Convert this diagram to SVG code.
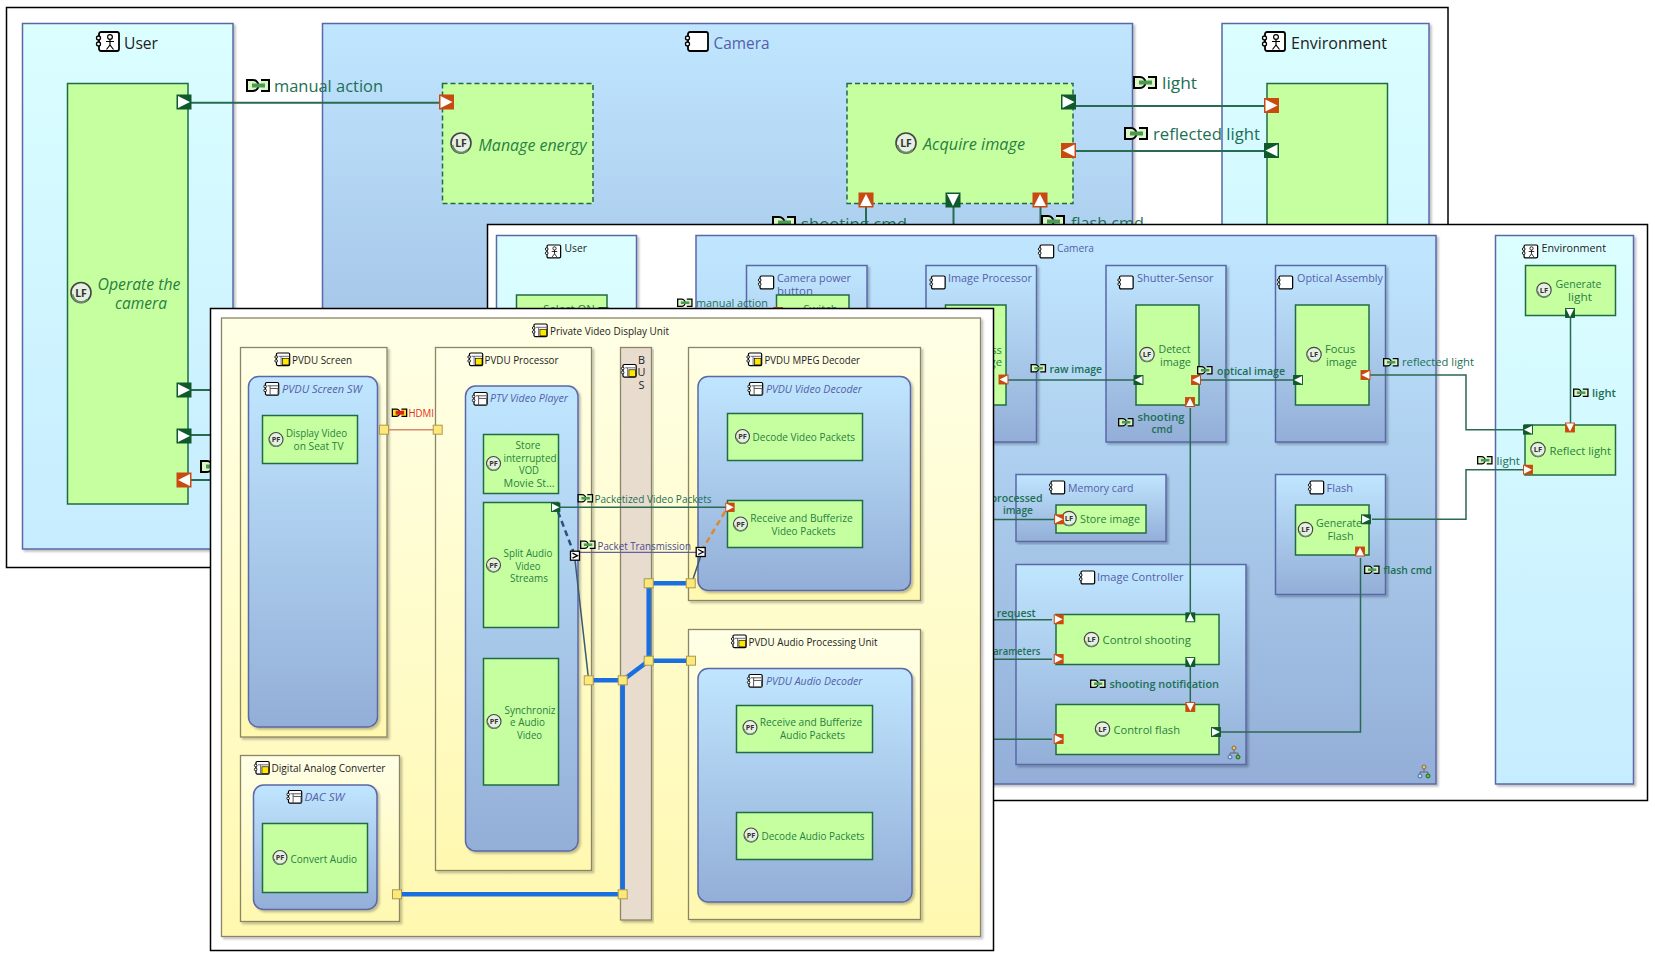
<svg xmlns="http://www.w3.org/2000/svg" xmlns:xlink="http://www.w3.org/1999/xlink" width="1655" height="957" viewBox="0 0 1655 957">
<style>
text{font-family:"Open Sans","Noto Sans",sans-serif}
.frame{fill:#fff;stroke:#000;stroke-width:1.5}
.g{fill:#c6ffa0;stroke:#1f6b45;stroke-width:1.5}
.gd{fill:#c6ffa0;stroke:#1f6b45;stroke-width:1.5;stroke-dasharray:5 3}
.b{fill:url(#blue);stroke:#5a68a8;stroke-width:1.5;filter:url(#sh)}
.c{fill:url(#cyan);stroke:#5a68a8;stroke-width:1.5;filter:url(#sh)}
.y{fill:url(#yel);stroke:#8a8468;stroke-width:1.3;filter:url(#sh)}
.bus{fill:#e8dccf;stroke:#8a8468;stroke-width:1.3;filter:url(#sh)}
.l{fill:none;stroke:#2a6a50;stroke-width:1.5}
.l1{fill:none;stroke:#2a6a50;stroke-width:2}
.bl{fill:none;stroke:#1a6fe0;stroke-width:4.5}
.f1{font-size:16.5px}
.f2{font-size:11.3px}
.f3{font-size:10.9px}
.tg{fill:#2a8040}
.tl{fill:#1d6f55}
.tb{fill:#5560a8}
.tk{fill:#222}
.i{font-style:italic}
.m{text-anchor:middle}
.ys{fill:#ffe87a;stroke:#a89a50;stroke-width:1}
</style>
<defs>
<linearGradient id="blue" x1="0" y1="0" x2="0" y2="1"><stop offset="0" stop-color="#c0e6ff"/><stop offset="1" stop-color="#93aed7"/></linearGradient>
<linearGradient id="cyan" x1="0" y1="0" x2="0" y2="1"><stop offset="0" stop-color="#dbffff"/><stop offset="1" stop-color="#c6ecff"/></linearGradient>
<linearGradient id="yel" x1="0" y1="0" x2="0" y2="1"><stop offset="0" stop-color="#ffffe6"/><stop offset="1" stop-color="#fff8b0"/></linearGradient>
<filter id="sh" x="-5%" y="-5%" width="110%" height="110%"><feDropShadow dx="2" dy="2" stdDeviation="1" flood-color="#000" flood-opacity=".25"/></filter>
<g id="pg"><rect x="-7.5" y="-7.5" width="15" height="15" fill="#0f5a2c"/><path d="M-6-6 6 0-6 6z" fill="#fff"/></g>
<g id="po"><rect x="-7.5" y="-7.5" width="15" height="15" fill="#c84a10"/><path d="M-6-6 6 0-6 6z" fill="#fff"/></g>
<g id="pk"><rect x="-4.5" y="-4.5" width="9" height="9" fill="#fff" stroke="#000" stroke-width="1.3"/><path d="M-2.5-2.5 2.5 0-2.5 2.5" fill="none" stroke="#000" stroke-width="1.3"/></g>
<g id="fx"><path d="M1 1h6a5.500 5.500 0 0 1 0 11H1z" fill="#dcf5c8" stroke="#000" stroke-width="2"/><path d="M15 1h8v11h-8" fill="#dcf5c8" stroke="#000" stroke-width="2"/><rect x="6" y="4.500" width="13" height="4" fill="#4a9a50"/></g>
<g id="fxr"><path d="M1 1h6a5.500 5.500 0 0 1 0 11H1z" fill="#ffe020" stroke="#000" stroke-width="2"/><path d="M15 1h8v11h-8" fill="#ffe020" stroke="#000" stroke-width="2"/><rect x="6" y="3.500" width="13" height="6" fill="#e02020"/></g>
<g id="cb"><rect x="3" y="0" width="20" height="19" rx="2" fill="#fff" stroke="#000" stroke-width="1.8"/><circle cx="2.5" cy="6" r="2" fill="#fff" stroke="#000" stroke-width="1.3"/><circle cx="2.5" cy="12" r="2" fill="#fff" stroke="#000" stroke-width="1.3"/></g>
<g id="ca"><use href="#cb"/><circle cx="14" cy="5" r="2.4" fill="#fff" stroke="#000" stroke-width="1.2"/><path d="M14 7.4V13M10 9.5h8M14 13l-3.500 4.500M14 13l3.500 4.500" fill="none" stroke="#000" stroke-width="1.2"/></g>
<g id="cn"><use href="#cb"/><path d="M6 5h16M10 5V19" stroke="#555" stroke-width="1.300" fill="none"/><rect x="12" y="8" width="10" height="10" fill="#ffe800" stroke="#000" stroke-width="1"/></g>
<g id="cs"><use href="#cb"/><path d="M6 5h16M10 5V19M10 9h12V19" stroke="#555" stroke-width="1.500" fill="none"/></g>
<g id="lf"><circle r="10" fill="#e6f0e0" stroke="#444" stroke-width="1.600"/><path d="M-8.500 2a8.800 8.800 0 0 0 15 5" fill="none" stroke="#6a8a6a" stroke-width="2"/><text y="4" text-anchor="middle" font-size="10.500" font-weight="700" fill="#333">LF</text></g>
<g id="pf"><circle r="10" fill="#e6f0e0" stroke="#444" stroke-width="1.600"/><path d="M-8.500 2a8.800 8.800 0 0 0 15 5" fill="none" stroke="#6a8a6a" stroke-width="2"/><text y="4" text-anchor="middle" font-size="10.500" font-weight="700" fill="#333">PF</text></g>
<g id="hi"><path d="M0-4V0M-4 3V0H4V3" fill="none" stroke="#667" stroke-width="1"/><circle cy="-5" r="2" fill="#e8c860" stroke="#865"/><circle cx="-4" cy="4" r="2" fill="#cfe0ff" stroke="#46a"/><circle cx="4" cy="4" r="2" fill="#60c040" stroke="#262"/></g>
</defs>

<g id="panel-system">
<rect class="frame" x="6.500" y="7.500" width="1441.500" height="560"/>
<g id="p1-user"><rect class="c" x="22.500" y="23.500" width="210.500" height="525.500"/>
<use href="#ca" transform="translate(96,32)"/><text class="f1 tk" x="124" y="48.500" textLength="34" lengthAdjust="spacingAndGlyphs">User</text>
<g id="p1-operate"><rect class="g" x="67.500" y="83.500" width="120.500" height="420.500"/>
<use href="#lf" transform="translate(81,292.500)"/>
<text class="f1 tg i" x="139" y="290" text-anchor="middle" textLength="83" lengthAdjust="spacingAndGlyphs">Operate the</text>
<text class="f1 tg i" x="141" y="309" text-anchor="middle" textLength="52" lengthAdjust="spacingAndGlyphs">camera</text></g></g>
<g id="p1-camera"><rect class="b" x="322.500" y="23.500" width="810" height="525.500"/>
<use href="#cb" transform="translate(685,32)"/><text class="f1 tb" x="713.500" y="48.500" textLength="56" lengthAdjust="spacingAndGlyphs">Camera</text>
<g id="p1-manage"><rect class="gd" x="442.500" y="83.500" width="150.500" height="120"/>
<use href="#lf" transform="translate(461,143)"/>
<text class="f1 tg i" x="478.500" y="150.500" textLength="108" lengthAdjust="spacingAndGlyphs">Manage energy</text></g>
<g id="p1-acquire"><rect class="gd" x="847" y="83.500" width="226" height="120"/>
<use href="#lf" transform="translate(906,143)"/>
<text class="f1 tg i" x="923" y="150" textLength="102" lengthAdjust="spacingAndGlyphs">Acquire image</text></g></g>
<g id="p1-environment"><rect class="c" x="1222" y="23.500" width="207" height="525.500"/>
<use href="#ca" transform="translate(1262,32)"/><text class="f1 tk" x="1291" y="48.500" textLength="96" lengthAdjust="spacingAndGlyphs">Environment</text>
<g id="p1-reflect"><rect class="g" x="1267" y="83.500" width="120.500" height="420"/></g></g>
<g id="p1-connectors">
<path class="l1" d="M191 102.700H440M1076 106H1264M1076 151H1264M866 207V224M953.500 207V224M1040.500 207V224M191 390H225M191 435H225M191 480H225"/>
<use href="#pg" transform="translate(184,102)"/><use href="#po" transform="translate(446.500,102)"/>
<use href="#pg" transform="translate(1068.500,102)"/><use href="#po" transform="translate(1068.500,150.500) rotate(180)"/>
<use href="#po" transform="translate(1271.500,105.500)"/><use href="#pg" transform="translate(1271.500,150.500) rotate(180)"/>
<use href="#po" transform="translate(866,200) rotate(-90)"/><use href="#pg" transform="translate(953,200) rotate(90)"/><use href="#po" transform="translate(1040,200) rotate(-90)"/>
<use href="#pg" transform="translate(184,390)"/><use href="#pg" transform="translate(184,436)"/><use href="#po" transform="translate(184,480) rotate(180)"/>
<use href="#fx" transform="translate(246,79)"/><text class="f1 tl" x="274" y="92" textLength="109" lengthAdjust="spacingAndGlyphs">manual action</text>
<use href="#fx" transform="translate(1133,76)"/><text class="f1 tl" x="1162" y="89" textLength="35" lengthAdjust="spacingAndGlyphs">light</text>
<use href="#fx" transform="translate(1124,127)"/><text class="f1 tl" x="1153" y="140" textLength="107" lengthAdjust="spacingAndGlyphs">reflected light</text>
<use href="#fx" transform="translate(772,216)"/><text class="f1 tl" x="801" y="230" textLength="106" lengthAdjust="spacingAndGlyphs">shooting cmd</text>
<use href="#fx" transform="translate(1041,215)"/><text class="f1 tl" x="1071" y="229" textLength="73" lengthAdjust="spacingAndGlyphs">flash cmd</text>
<use href="#fx" transform="translate(200,460)"/>
</g>
</g>

<g id="panel-camera">
<rect class="frame" x="487.500" y="224.500" width="1160" height="576"/>
<g id="p2-user"><rect class="c" x="496.500" y="235.500" width="140" height="548.500"/>
<use href="#ca" transform="translate(545,245) scale(.68)"/><text class="f2 tk" x="564.500" y="252" textLength="22.500" lengthAdjust="spacingAndGlyphs">User</text>
<g id="p2-select"><rect class="g" x="516.500" y="295" width="90.500" height="50"/><text class="f2 tg m" x="569" y="313">Select ON</text></g></g>
<g id="p2-camera"><rect class="b" x="696" y="235.500" width="740" height="548.500"/>
<use href="#cb" transform="translate(1038,245) scale(.68)"/><text class="f2 tb" x="1057" y="252" textLength="37" lengthAdjust="spacingAndGlyphs">Camera</text>
<g id="p2-power"><rect class="b" x="746.500" y="265.500" width="120.500" height="177"/>
<use href="#cb" transform="translate(758,276) scale(.68)"/><text class="f2 tb" x="777" y="282" textLength="74" lengthAdjust="spacingAndGlyphs">Camera power</text><text class="f2 tb" x="777" y="294.500" textLength="36" lengthAdjust="spacingAndGlyphs">button</text>
<g id="p2-switch"><rect class="g" x="776.500" y="295" width="72.500" height="50"/><text class="f2 tg m" x="820.500" y="313">Switch</text></g></g>
<g id="p2-processor"><rect class="b" x="926" y="265.500" width="110.500" height="176.500"/>
<use href="#cb" transform="translate(929.500,276) scale(.68)"/><text class="f2 tb" x="948" y="282" textLength="84" lengthAdjust="spacingAndGlyphs">Image Processor</text>
<g id="p2-process"><rect class="g" x="945.500" y="305" width="60.500" height="100"/><text class="f2 tg" x="1002" y="353.500" text-anchor="end">Process</text><text class="f2 tg" x="1002" y="366" text-anchor="end">image</text></g></g>
<g id="p2-shutter"><rect class="b" x="1106" y="265.500" width="120" height="176.500"/>
<use href="#cb" transform="translate(1117.500,276) scale(.68)"/><text class="f2 tb" x="1137" y="282" textLength="76.500" lengthAdjust="spacingAndGlyphs">Shutter-Sensor</text>
<g id="p2-detect"><rect class="g" x="1136" y="305" width="63" height="100"/><use href="#lf" transform="translate(1147,354.500) scale(.72)"/><text class="f2 tg m" x="1174.500" y="352.500" textLength="32" lengthAdjust="spacingAndGlyphs">Detect</text><text class="f2 tg m" x="1175.500" y="365.500" textLength="31" lengthAdjust="spacingAndGlyphs">image</text></g></g>
<g id="p2-optical"><rect class="b" x="1275.500" y="265.500" width="110" height="176.500"/>
<use href="#cb" transform="translate(1277,276) scale(.68)"/><text class="f2 tb" x="1297" y="282" textLength="86" lengthAdjust="spacingAndGlyphs">Optical Assembly</text>
<g id="p2-focus"><rect class="g" x="1295.500" y="305" width="73.500" height="100"/><use href="#lf" transform="translate(1314,354.500) scale(.72)"/><text class="f2 tg m" x="1340" y="352.500" textLength="30" lengthAdjust="spacingAndGlyphs">Focus</text><text class="f2 tg m" x="1341.500" y="365.500" textLength="31" lengthAdjust="spacingAndGlyphs">image</text></g></g>
<g id="p2-memory"><rect class="b" x="1016" y="474.500" width="150" height="67"/>
<use href="#cb" transform="translate(1049,481) scale(.68)"/><text class="f2 tb" x="1068" y="491.500" textLength="65.500" lengthAdjust="spacingAndGlyphs">Memory card</text>
<g id="p2-store"><rect class="g" x="1056" y="505" width="90" height="28"/><use href="#lf" transform="translate(1069,518.500) scale(.72)"/><text class="f2 tg" x="1080" y="522.500" textLength="60" lengthAdjust="spacingAndGlyphs">Store image</text></g></g>
<g id="p2-flash"><rect class="b" x="1275.500" y="474.500" width="110" height="120"/>
<use href="#cb" transform="translate(1308,481) scale(.68)"/><text class="f2 tb" x="1326.500" y="491.500" textLength="26.500" lengthAdjust="spacingAndGlyphs">Flash</text>
<g id="p2-genflash"><rect class="g" x="1295.500" y="505" width="73.500" height="50"/><use href="#lf" transform="translate(1305.500,529.500) scale(.72)"/><text class="f2 tg m" x="1339" y="526.500" textLength="46" lengthAdjust="spacingAndGlyphs">Generate</text><text class="f2 tg m" x="1340.500" y="539.500" textLength="26" lengthAdjust="spacingAndGlyphs">Flash</text></g></g>
<g id="p2-controller"><rect class="b" x="1016" y="564.500" width="230" height="200"/>
<use href="#cb" transform="translate(1079,571) scale(.68)"/><text class="f2 tb" x="1097" y="581" textLength="86.500" lengthAdjust="spacingAndGlyphs">Image Controller</text>
<g id="p2-ctlshoot"><rect class="g" x="1056" y="614.500" width="163" height="50"/><use href="#lf" transform="translate(1091.500,639.500) scale(.72)"/><text class="f2 tg" x="1102.500" y="643.500" textLength="88.500" lengthAdjust="spacingAndGlyphs">Control shooting</text></g>
<g id="p2-ctlflash"><rect class="g" x="1056" y="704.500" width="163" height="50"/><use href="#lf" transform="translate(1102.500,729) scale(.72)"/><text class="f2 tg" x="1113.500" y="733.500" textLength="66.500" lengthAdjust="spacingAndGlyphs">Control flash</text></g>
<use href="#hi" transform="translate(1234,753)"/></g>
<use href="#hi" transform="translate(1424,772)"/></g>
<g id="p2-environment"><rect class="c" x="1495.500" y="235.500" width="138" height="548.500"/>
<use href="#ca" transform="translate(1522,245) scale(.68)"/><text class="f2 tk" x="1541.500" y="252" textLength="64.500" lengthAdjust="spacingAndGlyphs">Environment</text>
<g id="p2-genlight"><rect class="g" x="1525.500" y="265.500" width="90" height="50"/><use href="#lf" transform="translate(1544,290) scale(.72)"/><text class="f2 tg m" x="1578.500" y="288" textLength="46" lengthAdjust="spacingAndGlyphs">Generate</text><text class="f2 tg m" x="1580" y="301" textLength="24" lengthAdjust="spacingAndGlyphs">light</text></g>
<g id="p2-reflectlight"><rect class="g" x="1525" y="425" width="90.500" height="50"/><use href="#lf" transform="translate(1538,449.500) scale(.72)"/><text class="f2 tg" x="1549.500" y="454.500" textLength="61.500" lengthAdjust="spacingAndGlyphs">Reflect light</text></g></g>
<g id="p2-connectors">
<path class="l" d="M606 312H776M1008 380H1135M1199 380H1294M1370 375H1466V429.700H1525M1570.500 318V423M1525 469.700H1466V519.300H1372M900 519.500H1056M1190.300 408V612M1190.300 664V702M1360.500 558V732H1220M900 619.700H1052M900 659.300H1052M900 739.300H1052"/>
<use href="#po" transform="translate(1003.500,379.500) rotate(180) scale(.66)"/>
<use href="#pg" transform="translate(1138.500,380) rotate(180) scale(.66)"/><use href="#po" transform="translate(1196,380) rotate(180) scale(.66)"/>
<use href="#pg" transform="translate(1298,380) rotate(180) scale(.66)"/><use href="#po" transform="translate(1365.500,375) rotate(180) scale(.66)"/>
<use href="#po" transform="translate(1190,402) rotate(-90) scale(.66)"/>
<use href="#pg" transform="translate(1570,313) rotate(90) scale(.66)"/><use href="#po" transform="translate(1570,427.500) rotate(90) scale(.66)"/>
<use href="#pg" transform="translate(1528,429.700) rotate(180) scale(.66)"/><use href="#po" transform="translate(1528,469.700) scale(.66)"/>
<use href="#pg" transform="translate(1366,519.300) scale(.66)"/><use href="#po" transform="translate(1360,551.500) rotate(-90) scale(.66)"/>
<use href="#po" transform="translate(1059,519.300) scale(.66)"/>
<use href="#po" transform="translate(1058.700,619.300) scale(.66)"/><use href="#po" transform="translate(1058.700,659) scale(.66)"/><use href="#po" transform="translate(1058.700,739) scale(.66)"/>
<use href="#pg" transform="translate(1190.300,617.300) rotate(-90) scale(.66)"/><use href="#pg" transform="translate(1190.300,662) rotate(90) scale(.66)"/><use href="#po" transform="translate(1190.300,707) rotate(90) scale(.66)"/>
<use href="#pg" transform="translate(1216,732) scale(.66)"/>
<use href="#pg" transform="translate(603.500,312) scale(.66)"/><use href="#po" transform="translate(778,312) scale(.66)"/>
<use href="#fx" transform="translate(677,298.500) scale(.65)"/><text class="f2 tl" x="696" y="306.500" textLength="72" lengthAdjust="spacingAndGlyphs">manual action</text>
<use href="#fx" transform="translate(1030.500,364) scale(.65)"/><text class="f2 tl" x="1049.500" y="372.500" font-weight="600" textLength="52.500" lengthAdjust="spacingAndGlyphs">raw image</text>
<use href="#fx" transform="translate(1197,366) scale(.65)"/><text class="f2 tl" x="1217" y="374.500" font-weight="600" textLength="68" lengthAdjust="spacingAndGlyphs">optical image</text>
<use href="#fx" transform="translate(1383,358) scale(.65)"/><text class="f2 tl" x="1402" y="366" textLength="72" lengthAdjust="spacingAndGlyphs">reflected light</text>
<use href="#fx" transform="translate(1573,388.500) scale(.65)"/><text class="f2 tl" x="1592" y="396.500" font-weight="600" textLength="24" lengthAdjust="spacingAndGlyphs">light</text>
<use href="#fx" transform="translate(1477,456) scale(.65)"/><text class="f2 tl" x="1496.500" y="464.500" textLength="23.500" lengthAdjust="spacingAndGlyphs">light</text>
<use href="#fx" transform="translate(1118,418) scale(.65)"/><text class="f2 tl m" x="1161" y="420.500" font-weight="600" textLength="47" lengthAdjust="spacingAndGlyphs">shooting</text><text class="f2 tl m" x="1162" y="433" font-weight="600" textLength="21" lengthAdjust="spacingAndGlyphs">cmd</text>
<use href="#fx" transform="translate(1364,565.500) scale(.65)"/><text class="f2 tl" x="1383.500" y="574" font-weight="600" textLength="48.500" lengthAdjust="spacingAndGlyphs">flash cmd</text>
<text class="f2 tl m" x="1016.500" y="501.500" font-weight="600" textLength="52" lengthAdjust="spacingAndGlyphs">processed</text><text class="f2 tl m" x="1018" y="514" font-weight="600" textLength="30" lengthAdjust="spacingAndGlyphs">image</text>
<text class="f2 tl" x="1035.700" y="617.300" text-anchor="end" font-weight="600" textLength="39" lengthAdjust="spacingAndGlyphs">request</text>
<text class="f2 tl" x="1040.300" y="655" text-anchor="end" font-weight="600" textLength="53" lengthAdjust="spacingAndGlyphs">parameters</text>
<use href="#fx" transform="translate(1090,679.500) scale(.65)"/><text class="f2 tl" x="1109.500" y="688" font-weight="600" textLength="109.500" lengthAdjust="spacingAndGlyphs">shooting notification</text>
</g>
</g>

<g id="panel-pvdu">
<rect class="frame" x="210.500" y="308.500" width="783" height="642"/>
<g id="p3-unit"><rect class="y" x="221.500" y="318" width="759" height="618.500"/>
<use href="#cn" transform="translate(532,324) scale(.66)"/><text class="f3 tk" x="550" y="334.500" textLength="119" lengthAdjust="spacingAndGlyphs">Private Video Display Unit</text>
<g id="p3-screen"><rect class="y" x="240.500" y="347.500" width="146.500" height="389.500"/>
<use href="#cn" transform="translate(274.500,353) scale(.66)"/><text class="f3 tk" x="292" y="363.500" textLength="60" lengthAdjust="spacingAndGlyphs">PVDU Screen</text>
<g id="p3-screensw"><rect class="b" x="248.500" y="376.500" width="129" height="350.500" rx="10"/>
<use href="#cs" transform="translate(263.500,382.500) scale(.66)"/><text class="f3 tb i" x="282" y="392.500" textLength="80" lengthAdjust="spacingAndGlyphs">PVDU Screen SW</text>
<g id="p3-display"><rect class="g" x="262.500" y="415.500" width="95" height="48"/><use href="#pf" transform="translate(276,439.500) scale(.7)"/><text class="f3 tg m" x="316.500" y="437" textLength="61" lengthAdjust="spacingAndGlyphs">Display Video</text><text class="f3 tg m" x="318.500" y="449.500" textLength="50" lengthAdjust="spacingAndGlyphs">on Seat TV</text></g></g></g>
<g id="p3-processor"><rect class="y" x="435.500" y="347.500" width="156" height="523"/>
<use href="#cn" transform="translate(467.500,353) scale(.66)"/><text class="f3 tk" x="484.500" y="363.500" textLength="74" lengthAdjust="spacingAndGlyphs">PVDU Processor</text>
<g id="p3-player"><rect class="b" x="465.500" y="386" width="112.500" height="465" rx="10"/>
<use href="#cs" transform="translate(472,392.500) scale(.66)"/><text class="f3 tb i" x="490" y="402" textLength="78" lengthAdjust="spacingAndGlyphs">PTV Video Player</text>
<g id="p3-store"><rect class="g" x="483.500" y="434.500" width="75" height="59"/><use href="#pf" transform="translate(493.500,463.500) scale(.7)"/><text class="f3 tg m" x="528" y="448.500" textLength="25" lengthAdjust="spacingAndGlyphs">Store</text><text class="f3 tg m" x="530" y="461.500" textLength="53" lengthAdjust="spacingAndGlyphs">interrupted</text><text class="f3 tg m" x="529" y="474" textLength="20" lengthAdjust="spacingAndGlyphs">VOD</text><text class="f3 tg m" x="529" y="486.500" textLength="51" lengthAdjust="spacingAndGlyphs">Movie St…</text></g>
<g id="p3-split"><rect class="g" x="483.500" y="502.500" width="75" height="125"/><use href="#pf" transform="translate(493.500,565) scale(.7)"/><text class="f3 tg m" x="528" y="556.500" textLength="49" lengthAdjust="spacingAndGlyphs">Split Audio</text><text class="f3 tg m" x="528" y="569.500" textLength="25" lengthAdjust="spacingAndGlyphs">Video</text><text class="f3 tg m" x="529" y="582" textLength="38" lengthAdjust="spacingAndGlyphs">Streams</text></g>
<g id="p3-sync"><rect class="g" x="483.500" y="658.500" width="75" height="126.500"/><use href="#pf" transform="translate(494,721.500) scale(.7)"/><text class="f3 tg m" x="530" y="713.500" textLength="51" lengthAdjust="spacingAndGlyphs">Synchroniz</text><text class="f3 tg m" x="527.500" y="726" textLength="35" lengthAdjust="spacingAndGlyphs">e Audio</text><text class="f3 tg m" x="529.500" y="738.500" textLength="25" lengthAdjust="spacingAndGlyphs">Video</text></g></g></g>
<g id="p3-bus"><rect class="bus" x="620.500" y="347.500" width="31" height="572.500"/>
<use href="#cn" transform="translate(621,364.500) scale(.66)"/><text class="f3 tk m" x="641.500" y="363.500">B</text><text class="f3 tk m" x="641.500" y="376">U</text><text class="f3 tk m" x="641.500" y="388.500">S</text></g>
<g id="p3-mpeg"><rect class="y" x="688.500" y="347.500" width="232" height="253"/>
<use href="#cn" transform="translate(746.500,353) scale(.66)"/><text class="f3 tk" x="764.500" y="363.500" textLength="95.500" lengthAdjust="spacingAndGlyphs">PVDU MPEG Decoder</text>
<g id="p3-videodec"><rect class="b" x="698" y="376.500" width="212.500" height="214" rx="10"/>
<use href="#cs" transform="translate(747.500,382.500) scale(.66)"/><text class="f3 tb i" x="766" y="392.500" textLength="96" lengthAdjust="spacingAndGlyphs">PVDU Video Decoder</text>
<g id="p3-decvid"><rect class="g" x="727.500" y="413.500" width="135" height="47"/><use href="#pf" transform="translate(742.500,436.500) scale(.7)"/><text class="f3 tg" x="752.500" y="441" textLength="102.500" lengthAdjust="spacingAndGlyphs">Decode Video Packets</text></g>
<g id="p3-recvid"><rect class="g" x="727.500" y="500.500" width="135" height="47"/><use href="#pf" transform="translate(740.500,524) scale(.7)"/><text class="f3 tg m" x="801.500" y="522" textLength="102.500" lengthAdjust="spacingAndGlyphs">Receive and Bufferize</text><text class="f3 tg m" x="803.500" y="534.500" textLength="64" lengthAdjust="spacingAndGlyphs">Video Packets</text></g></g></g>
<g id="p3-audio"><rect class="y" x="688.500" y="629.500" width="232" height="290"/>
<use href="#cn" transform="translate(731,635) scale(.66)"/><text class="f3 tk" x="748.500" y="645.500" textLength="129" lengthAdjust="spacingAndGlyphs">PVDU Audio Processing Unit</text>
<g id="p3-audiodec"><rect class="b" x="698" y="668.500" width="214" height="233.500" rx="10"/>
<use href="#cs" transform="translate(747,674.500) scale(.66)"/><text class="f3 tb i" x="766" y="684.500" textLength="96.500" lengthAdjust="spacingAndGlyphs">PVDU Audio Decoder</text>
<g id="p3-recaud"><rect class="g" x="736.500" y="705.500" width="136" height="47"/><use href="#pf" transform="translate(750,727.500) scale(.7)"/><text class="f3 tg m" x="811" y="726" textLength="102.500" lengthAdjust="spacingAndGlyphs">Receive and Bufferize</text><text class="f3 tg m" x="812.500" y="738.500" textLength="65" lengthAdjust="spacingAndGlyphs">Audio Packets</text></g>
<g id="p3-decaud"><rect class="g" x="736.500" y="812.500" width="136" height="47"/><use href="#pf" transform="translate(751,835) scale(.7)"/><text class="f3 tg" x="761.500" y="840" textLength="103" lengthAdjust="spacingAndGlyphs">Decode Audio Packets</text></g></g></g>
<g id="p3-dac"><rect class="y" x="240.500" y="755.500" width="159" height="166"/>
<use href="#cn" transform="translate(254,761.500) scale(.66)"/><text class="f3 tk" x="271.500" y="772" textLength="114" lengthAdjust="spacingAndGlyphs">Digital Analog Converter</text>
<g id="p3-dacsw"><rect class="b" x="253.500" y="785" width="123.500" height="124.500" rx="10"/>
<use href="#cs" transform="translate(286.500,790.500) scale(.66)"/><text class="f3 tb i" x="304.500" y="801" textLength="40" lengthAdjust="spacingAndGlyphs">DAC SW</text>
<g id="p3-convert"><rect class="g" x="262.500" y="823.500" width="105" height="69"/><use href="#pf" transform="translate(280,857.500) scale(.7)"/><text class="f3 tg" x="290.500" y="862.500" textLength="66.500" lengthAdjust="spacingAndGlyphs">Convert Audio</text></g></g></g>
</g>
<g id="p3-connectors">
<path d="M384 429.700H437.700" fill="none" stroke="#d88a70" stroke-width="1.500"/>
<path class="bl" d="M690.700 583.300H648.700V660.700H691M648.700 660.700 622.700 680.300H588.700M622.700 680.300V894.300H397"/>
<path d="M575 560 588.700 680.300M700.700 556 692.700 580" fill="none" stroke="#3a5a70" stroke-width="1.500"/>
<path d="M575 552.300H700.700" fill="none" stroke="#6060a0" stroke-width="1.300"/>
<path class="l" d="M558 507.300H730"/>
<path d="M558 511.700 573.300 551.700" fill="none" stroke="#2a5080" stroke-width="2.500" stroke-dasharray="6 4"/>
<path d="M725 511.700 703 548.300" fill="none" stroke="#d98a30" stroke-width="2.500" stroke-dasharray="6 4"/>
<use href="#pg" transform="translate(555.700,507.300) scale(.62)"/><use href="#po" transform="translate(730,507.300) scale(.62)"/>
<use href="#pk" transform="translate(575,555.700)"/><use href="#pk" transform="translate(700.700,552)"/>
<rect class="ys" x="379.500" y="425.200" width="9" height="9"/><rect class="ys" x="433.200" y="425.200" width="9" height="9"/>
<rect class="ys" x="644.200" y="578.800" width="9" height="9"/><rect class="ys" x="686.200" y="578.800" width="9" height="9"/>
<rect class="ys" x="644.200" y="656.200" width="9" height="9"/><rect class="ys" x="686.500" y="656.200" width="9" height="9"/>
<rect class="ys" x="618.200" y="675.800" width="9" height="9"/><rect class="ys" x="584.200" y="675.800" width="9" height="9"/>
<rect class="ys" x="618.200" y="889.800" width="9" height="9"/><rect class="ys" x="392.500" y="889.800" width="9" height="9"/>
<use href="#fxr" transform="translate(391.700,408.500) scale(.65)"/><text class="f3" fill="#e03020" x="408.500" y="416.500" textLength="25.500" lengthAdjust="spacingAndGlyphs">HDMI</text>
<use href="#fx" transform="translate(577.500,494) scale(.65)"/><text class="f3 tl" x="594.500" y="502.500" textLength="117" lengthAdjust="spacingAndGlyphs">Packetized Video Packets</text>
<use href="#fx" transform="translate(580,540.500) scale(.65)"/><text class="f3" fill="#4a4a90" x="597.500" y="549.500" textLength="93.500" lengthAdjust="spacingAndGlyphs">Packet Transmission</text>
</g>
</g>
</svg>
